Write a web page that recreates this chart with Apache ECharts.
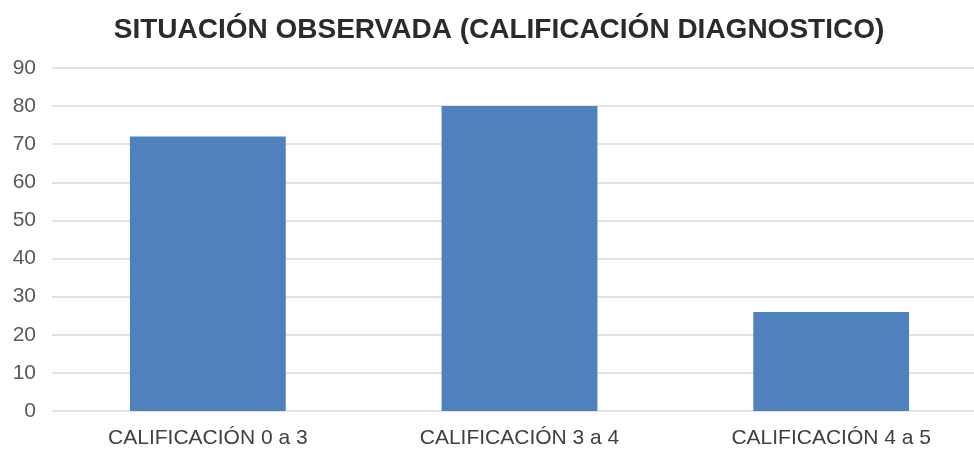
<!DOCTYPE html>
<html>
<head>
<meta charset="utf-8">
<script src="https://cdn.jsdelivr.net/npm/echarts@6/dist/echarts.min.js"></script>
<style>
  html, body { margin: 0; padding: 0; background: #ffffff; overflow: hidden; }
  /* plot runs slightly past the right edge of the window */
  #chart { width: 987px; height: 449px; }
</style>
</head>
<body>
<div id="chart"></div>
<script>
const titleText = 'SITUACIÓN OBSERVADA (CALIFICACIÓN DIAGNOSTICO)';
const categories = ['CALIFICACIÓN 0 a 3', 'CALIFICACIÓN 3 a 4', 'CALIFICACIÓN 4 a 5'];
const values = [72, 80, 26];
const yTicks = { min: 0, max: 90, interval: 10 };

const chart = echarts.init(document.getElementById('chart'));
chart.setOption({
  animation: false,
  title: {
    text: titleText,
    left: 494,
    textAlign: 'center',
    top: 11,
    textStyle: { fontFamily: 'Liberation Sans', fontWeight: 'bold', fontSize: 28, color: '#2b2b2b' }
  },
  grid: { left: 52, right: 0, top: 68, bottom: 37, containLabel: false },
  xAxis: {
    type: 'category',
    data: categories,
    axisLine: { show: false },
    axisTick: { show: false },
    axisLabel: { fontFamily: 'Liberation Sans', fontSize: 21, color: '#404040', margin: 17 }
  },
  yAxis: {
    type: 'value',
    min: yTicks.min,
    max: yTicks.max,
    interval: yTicks.interval,
    axisLine: { show: false },
    axisTick: { show: false },
    axisLabel: { fontFamily: 'Liberation Sans', fontSize: 21, color: '#595959', margin: 16 },
    splitLine: { lineStyle: { color: '#e3e3e3', width: 2 } }
  },
  series: [{
    type: 'bar',
    data: values,
    barWidth: '50%',
    itemStyle: { color: '#4f81bd' }
  }]
});
</script>
</body>
</html>
